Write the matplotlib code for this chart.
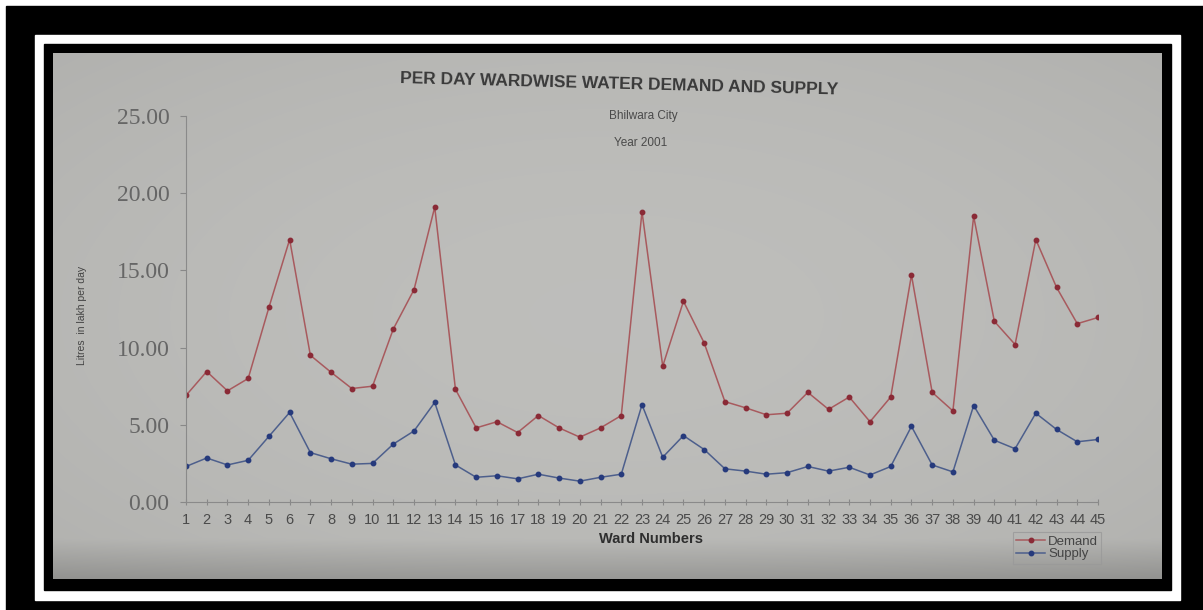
import numpy as np
import matplotlib.pyplot as plt
from matplotlib.patches import Rectangle

# ward-wise water figures, litres in lakh per day (Bhilwara, 2001)
wards = list(range(1, 46))
demand = [6.9, 8.45, 7.2, 8.0, 12.6, 17.0, 9.5, 8.4, 7.35, 7.5,
          11.2, 13.75, 19.1, 7.3, 4.8, 5.2, 4.5, 5.6, 4.8, 4.2,
          4.8, 5.6, 18.8, 8.8, 13.0, 10.3, 6.5, 6.1, 5.65, 5.75,
          7.1, 6.0, 6.8, 5.2, 6.8, 14.7, 7.1, 5.9, 18.5, 11.7,
          10.2, 17.0, 13.9, 11.55, 11.95]
supply = [2.3, 2.85, 2.4, 2.7, 4.25, 5.8, 3.2, 2.8, 2.45, 2.5,
          3.75, 4.6, 6.45, 2.4, 1.6, 1.7, 1.5, 1.8, 1.55, 1.35,
          1.6, 1.8, 6.3, 2.9, 4.3, 3.4, 2.15, 2.0, 1.8, 1.9,
          2.3, 2.0, 2.25, 1.75, 2.3, 4.9, 2.4, 1.95, 6.25, 4.0,
          3.45, 5.75, 4.7, 3.9, 4.05]
yticks = [0, 5, 10, 15, 20, 25]

W, H = 1203, 610


def fx(px):
    return px / W


def fy(py):
    return 1 - py / H


fig = plt.figure(figsize=(W / 100, H / 100), dpi=100, facecolor='white')

# frame: black / white / black around the sheet
for (x0, y0, x1, y1), c in [((6, 6, W, H), 'black'),
                            ((35, 35, 1180, 600), 'white'),
                            ((44, 44, 1171, 590), 'black')]:
    fig.add_artist(Rectangle((fx(x0), fy(y1)), fx(x1 - x0), (y1 - y0) / H,
                             transform=fig.transFigure, color=c, zorder=-10))

# grey sheet, a little darker toward the edges and the bottom
bg = fig.add_axes([fx(53), fy(579), fx(1162 - 53), (579 - 53) / H], zorder=-5)
gx, gy = np.meshgrid(np.linspace(-1, 1, 600), np.linspace(-1, 1, 300))
shade = 0.745 - 0.025 * (gx ** 2 + gy ** 2) - 0.12 * np.clip(gy - 0.85, 0, None) / 0.15
rgb = np.dstack([shade, shade, shade * 0.985])
bg.imshow(rgb, aspect='auto', extent=[0, 1, 0, 1], interpolation='bilinear')
bg.axis('off')

ax = fig.add_axes([fx(186), fy(502), fx(1098 - 186), (502 - 116) / H])
ax.patch.set_alpha(0)

ax.plot(wards, demand, color='#a85a5e', lw=1.1, marker='o', ms=3.2,
        mfc='#8a2a36', mec='#8a2a36', label='Demand')
ax.plot(wards, supply, color='#4d5f8c', lw=1.1, marker='o', ms=3.2,
        mfc='#263a7c', mec='#263a7c', label='Supply')

ax.set_xlim(1, 45)
ax.set_ylim(0, 25)
ax.set_xticks(wards)
ax.set_xticklabels([str(w) for w in wards], fontsize=10.5, color='#4a4a4a',
                   family='Liberation Sans')
ax.set_yticks(yticks)
ax.set_yticklabels(['%.2f' % v for v in yticks], fontsize=17, color='#666666',
                   family='Liberation Serif')
ax.tick_params(axis='x', direction='inout', length=4, color='#888888', pad=6)
ax.tick_params(axis='y', direction='out', length=4, color='#888888', pad=8)
for s in ['top', 'right']:
    ax.spines[s].set_visible(False)
for s in ['left', 'bottom']:
    ax.spines[s].set_color('#8a8a8a')
    ax.spines[s].set_linewidth(0.8)

fig.text(fx(619), fy(84), 'PER DAY WARDWISE WATER DEMAND AND SUPPLY', ha='center',
         va='center', fontsize=12.5, fontweight='bold', color='#3a3a3a',
         family='Liberation Sans', rotation=-1.5)
fig.text(fx(643), fy(116), 'Bhilwara City', ha='center', va='center',
         fontsize=8.5, color='#4a4a4a', family='Liberation Sans')
fig.text(fx(641), fy(143), 'Year 2001', ha='center', va='center',
         fontsize=8.5, color='#4a4a4a', family='Liberation Sans')
fig.text(fx(651), fy(539), 'Ward Numbers', ha='center', va='center',
         fontsize=10.5, fontweight='bold', color='#2e2e2e', family='Liberation Sans')
fig.text(fx(82), fy(315), 'Litres  in lakh per day', ha='center', va='center',
         rotation=90, fontsize=7.5, color='#444444', family='Liberation Sans')

leg = ax.legend(loc='upper left', bbox_to_anchor=(fx(1013), fy(532)),
                bbox_transform=fig.transFigure, fontsize=9.5, frameon=True,
                fancybox=False, handlelength=2.2, handletextpad=0.2,
                labelspacing=0.05, borderpad=0.25, borderaxespad=0)
leg.get_frame().set_edgecolor('#999999')
leg.get_frame().set_facecolor('none')
leg.get_frame().set_linewidth(0.8)
for t in leg.get_texts():
    t.set_color('#444444')
    t.set_family('Liberation Sans')

fig.savefig('out.png', dpi=100, facecolor='white')
